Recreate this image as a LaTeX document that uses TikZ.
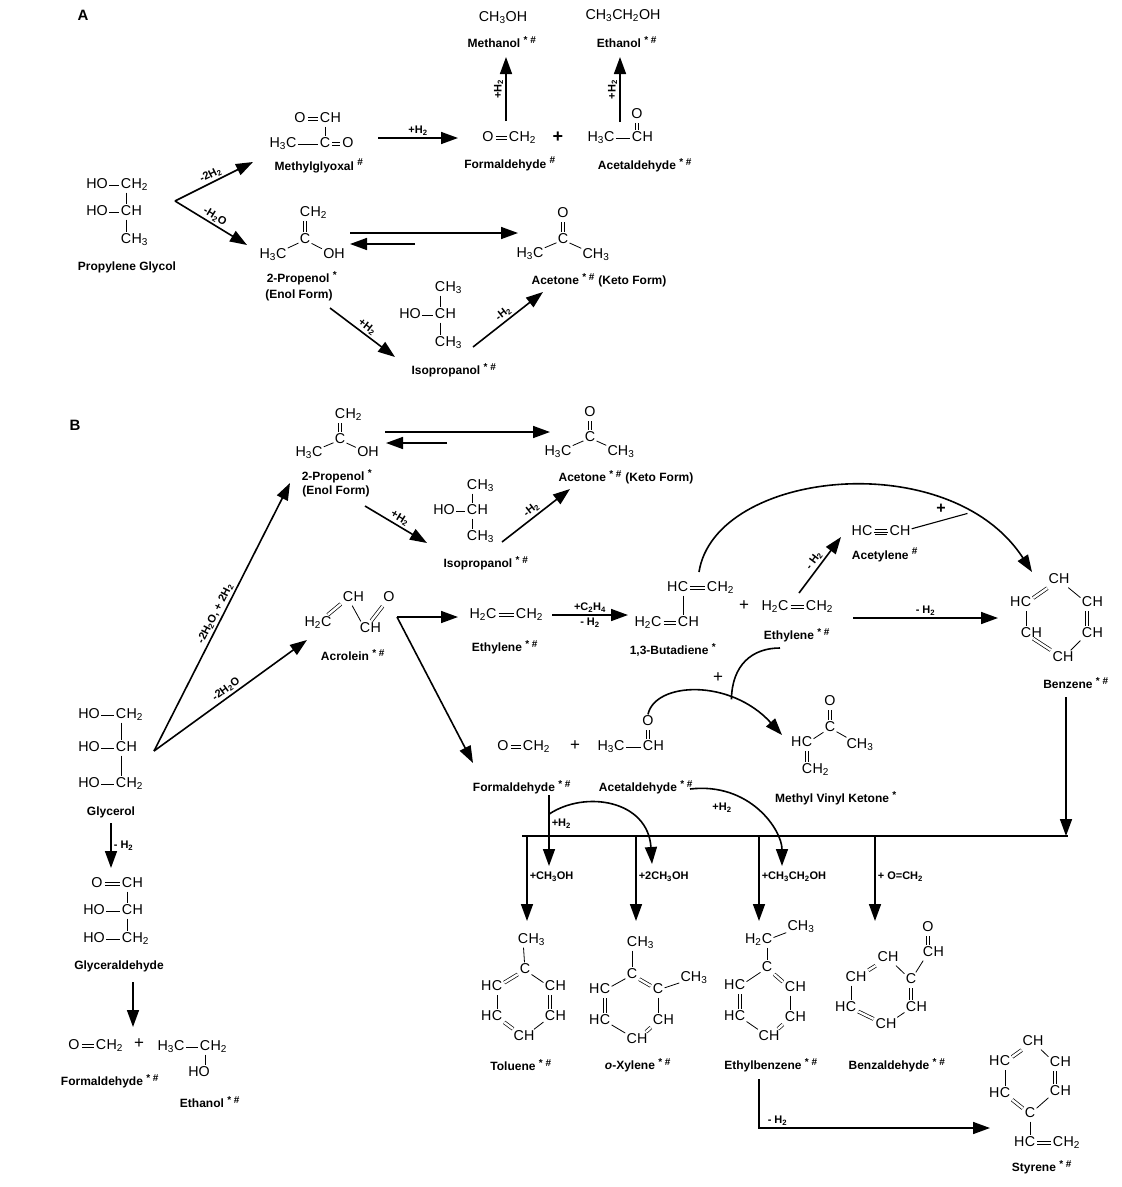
\documentclass[tikz,border=0pt]{standalone}
\usepackage{fontspec}
\setmainfont{Liberation Sans}
\usetikzlibrary{arrows.meta}

\newcommand{\cmpmark}[1]{~\textsuperscript{\fontsize{10}{10}\selectfont #1}}

\tikzset{
  atm/.style={inner sep=1.2pt, text height=10pt, text depth=2.5pt, font=\fontsize{14.3}{16}\selectfont},
  hr/.style={label={[atm, inner sep=0pt, xshift=-1.2pt]right:#1}},
  hl/.style={label={[atm, inner sep=0pt, xshift=1.2pt]left:#1}},
  sb/.style={line width=0.8pt},
  db/.style={double, double distance=2.4pt, line width=0.7pt, shorten <=0.8pt, shorten >=0.8pt},
  molname/.style={inner sep=0pt, font=\bfseries\fontsize{12}{14}\selectfont},
  cnd/.style={inner sep=2pt, font=\bfseries\fontsize{11}{13}\selectfont},
  pl/.style={inner sep=0pt, font=\fontsize{17}{19}\selectfont},
  rx/.style={line width=1.6pt, -{Triangle[length=17pt, width=12pt]}},
}

\begin{document}
\begin{tikzpicture}[x=1pt, y=-1pt]
\useasboundingbox (0,0) rectangle (1122,1187);

% ================= A =================
\node[font=\bfseries\fontsize{15}{17}\selectfont] (lblA) at (83,15) {A};

% propylene glycol
\node[atm] (pg1o) at (97,185) {HO};
\node[atm, hr={H\textsubscript{2}}] (pg1c) at (126,185) {C};
\node[atm] (pg2o) at (97,212) {HO};
\node[atm, hr=H] (pg2c) at (126,212) {C};
\node[atm, hr={H\textsubscript{3}}] (pg3c) at (126,240) {C};
\draw[sb] (pg1o) -- (pg1c);
\draw[sb] (pg2o) -- (pg2c);
\draw[sb] (pg1c) -- (pg2c) -- (pg3c);
\node[molname] (pgl) at (127,267) {Propylene Glycol};

\coordinate (pgv) at (175,201);
\coordinate (mgin) at (253,162);
\coordinate (pain) at (247,245);
\draw[rx] (pgv) -- node[cnd, sloped, above] {-2H\textsubscript{2}} (mgin);
\draw[rx] (pgv) -- node[cnd, sloped, above] {-H\textsubscript{2}O} (pain);

% methylglyoxal
\node[atm] (mgo1) at (300,119) {O};
\node[atm, hr=H] (mgc1) at (325,119) {C};
\node[atm] (mgme) at (283,144) {H\textsubscript{3}C};
\node[atm] (mgc2) at (325,144) {C};
\node[atm] (mgo2) at (348,144) {O};
\draw[db] (mgo1) -- (mgc1);
\draw[sb] (mgc1) -- (mgc2);
\draw[sb] (mgme) -- (mgc2);
\draw[db] (mgc2) -- (mgo2);
\node[molname] (mgl) at (319,166) {Methylglyoxal\cmpmark{\#}};

\coordinate (mgout) at (378,138);
\coordinate (fain) at (458,138);
\draw[rx] (mgout) -- node[cnd, above] {+H\textsubscript{2}} (fain);

% formaldehyde + acetaldehyde
\node[atm] (fao) at (488,138) {O};
\node[atm, hr={H\textsubscript{2}}] (fac) at (514,138) {C};
\draw[db] (fao) -- (fac);
\node[molname] (fal) at (510,164) {Formaldehyde\cmpmark{\#}};
\node[pl, font=\bfseries\fontsize{18}{20}\selectfont] (plA) at (558,137) {+};
\node[atm] (aame) at (601,138) {H\textsubscript{3}C};
\node[atm, hr=H] (aac) at (637,138) {C};
\node[atm] (aao) at (637,115) {O};
\draw[sb] (aame) -- (aac);
\draw[db] (aac) -- (aao);
\node[molname] (aal) at (645,165) {Acetaldehyde\cmpmark{* \#}};

% methanol, ethanol
\coordinate (meout) at (506,121);
\coordinate (mein) at (506,57);
\draw[rx] (meout) -- node[cnd, sloped, above] {+H\textsubscript{2}} (mein);
\node[atm] (meoh) at (503,18) {CH\textsubscript{3}OH};
\node[molname] (mel) at (502,42) {Methanol\cmpmark{* \#}};
\coordinate (etout) at (620,122);
\coordinate (etin) at (620,57);
\draw[rx] (etout) -- node[cnd, sloped, above] {+H\textsubscript{2}} (etin);
\node[atm] (etoh) at (623,16) {CH\textsubscript{3}CH\textsubscript{2}OH};
\node[molname] (etl) at (627,42) {Ethanol\cmpmark{* \#}};

% 2-propenol (enol)
\node[atm, hr={H\textsubscript{2}}] (pach2) at (305,213) {C};
\node[atm] (pac) at (305,240) {C};
\node[atm] (pame) at (273,255) {H\textsubscript{3}C};
\node[atm] (paoh) at (334,255) {OH};
\draw[db] (pach2) -- (pac);
\draw[sb] (pame) -- (pac) -- (paoh);
\node[molname] (pal1) at (302,278) {2-Propenol\cmpmark{*}};
\node[molname] (pal2) at (299,295) {(Enol Form)};

\coordinate (eqa1) at (350,233);
\coordinate (eqa2) at (518,233);
\coordinate (eqa3) at (415,244);
\coordinate (eqa4) at (350,244);
\draw[rx] (eqa1) -- (eqa2);
\draw[rx] (eqa3) -- (eqa4);

% acetone (keto)
\node[atm] (acao) at (563,214) {O};
\node[atm] (acac) at (563,240) {C};
\node[atm] (acam1) at (530,254) {H\textsubscript{3}C};
\node[atm] (acam2) at (596,255) {CH\textsubscript{3}};
\draw[db] (acao) -- (acac);
\draw[sb] (acam1) -- (acac) -- (acam2);
\node[molname] (acal) at (599,280) {Acetone\cmpmark{* \#} (Keto Form)};

% isopropanol
\node[atm, hr={H\textsubscript{3}}] (ipa1) at (440,288) {C};
\node[atm] (ipaho) at (410,315) {HO};
\node[atm, hr=H] (ipa2) at (440,315) {C};
\node[atm, hr={H\textsubscript{3}}] (ipa3) at (440,343) {C};
\draw[sb] (ipa1) -- (ipa2) -- (ipa3);
\draw[sb] (ipaho) -- (ipa2);
\node[molname] (ipal) at (454,370) {Isopropanol\cmpmark{* \#}};

\coordinate (paout) at (330,308);
\coordinate (ipin) at (395,357);
\coordinate (ipout) at (473,347);
\coordinate (acin) at (543,292);
\draw[rx] (paout) -- node[cnd, sloped, above] {+H\textsubscript{2}} (ipin);
\draw[rx] (ipout) -- node[cnd, sloped, above] {-H\textsubscript{2}} (acin);

% ================= B =================
\node[font=\bfseries\fontsize{15}{17}\selectfont] (lblB) at (75,425) {B};

% 2-propenol
\node[atm, hr={H\textsubscript{2}}] (pbch2) at (340,415) {C};
\node[atm] (pbc) at (340,440) {C};
\node[atm] (pbme) at (309,453) {H\textsubscript{3}C};
\node[atm] (pboh) at (368,453) {OH};
\draw[db] (pbch2) -- (pbc);
\draw[sb] (pbme) -- (pbc) -- (pboh);
\node[molname] (pbl1) at (337,476) {2-Propenol\cmpmark{*}};
\node[molname] (pbl2) at (336,491) {(Enol Form)};

\coordinate (eqb1) at (385,432);
\coordinate (eqb2) at (550,432);
\coordinate (eqb3) at (447,443);
\coordinate (eqb4) at (386,443);
\draw[rx] (eqb1) -- (eqb2);
\draw[rx] (eqb3) -- (eqb4);

% acetone
\node[atm] (acbo) at (590,413) {O};
\node[atm] (acbc) at (590,438) {C};
\node[atm] (acbm1) at (558,452) {H\textsubscript{3}C};
\node[atm] (acbm2) at (621,452) {CH\textsubscript{3}};
\draw[db] (acbo) -- (acbc);
\draw[sb] (acbm1) -- (acbc) -- (acbm2);
\node[molname] (acbl) at (626,477) {Acetone\cmpmark{* \#} (Keto Form)};

% isopropanol
\node[atm, hr={H\textsubscript{3}}] (ipb1) at (472,486) {C};
\node[atm] (ipbho) at (444,511) {HO};
\node[atm, hr=H] (ipb2) at (472,511) {C};
\node[atm, hr={H\textsubscript{3}}] (ipb3) at (472,537) {C};
\draw[sb] (ipb1) -- (ipb2) -- (ipb3);
\draw[sb] (ipbho) -- (ipb2);
\node[molname] (ipbl) at (486,563) {Isopropanol\cmpmark{* \#}};

\coordinate (pbout) at (365,506);
\coordinate (ipbin) at (427,543);
\coordinate (ipbout) at (502,542);
\coordinate (acbin) at (570,489);
\draw[rx] (pbout) -- node[cnd, sloped, above] {+H\textsubscript{2}} (ipbin);
\draw[rx] (ipbout) -- node[cnd, sloped, above] {-H\textsubscript{2}} (acbin);

% glycerol
\node[atm] (gl1o) at (89,715) {HO};
\node[atm, hr={H\textsubscript{2}}] (gl1c) at (121,715) {C};
\node[atm] (gl2o) at (89,748) {HO};
\node[atm, hr=H] (gl2c) at (121,748) {C};
\node[atm] (gl3o) at (89,784) {HO};
\node[atm, hr={H\textsubscript{2}}] (gl3c) at (121,784) {C};
\draw[sb] (gl1o) -- (gl1c);
\draw[sb] (gl2o) -- (gl2c);
\draw[sb] (gl3o) -- (gl3c);
\draw[sb] (gl1c) -- (gl2c) -- (gl3c);
\node[molname] (gll) at (111,812) {Glycerol};

\coordinate (glv) at (154,751);
\coordinate (pbin) at (290,483);
\coordinate (arin) at (307,640);
\draw[rx] (glv) -- node[cnd, sloped, above] {-2H\textsubscript{2}O, + 2H\textsubscript{2}} (pbin);
\draw[rx] (glv) -- node[cnd, sloped, above] {-2H\textsubscript{2}O} (arin);

% glyceraldehyde
\coordinate (glout) at (111,823);
\coordinate (gain) at (111,868);
\draw[rx] (glout) -- node[cnd, right] {- H\textsubscript{2}} (gain);
\node[atm] (ga1o) at (97,884) {O};
\node[atm, hr=H] (ga1c) at (127,884) {C};
\node[atm] (ga2o) at (94,911) {HO};
\node[atm, hr=H] (ga2c) at (127,911) {C};
\node[atm] (ga3o) at (94,939) {HO};
\node[atm, hr={H\textsubscript{2}}] (ga3c) at (127,939) {C};
\draw[db] (ga1o) -- (ga1c);
\draw[sb] (ga2o) -- (ga2c);
\draw[sb] (ga3o) -- (ga3c);
\draw[sb] (ga1c) -- (ga2c) -- (ga3c);
\node[molname] (gal) at (119,966) {Glyceraldehyde};

\coordinate (gaout) at (133,982);
\coordinate (bfin) at (133,1027);
\draw[rx] (gaout) -- (bfin);

% formaldehyde + ethanol
\node[atm] (bfo) at (74,1046) {O};
\node[atm, hr={H\textsubscript{2}}] (bfc) at (101,1046) {C};
\draw[db] (bfo) -- (bfc);
\node[pl] (plbf) at (139,1044) {+};
\node[atm] (beme) at (171,1047) {H\textsubscript{3}C};
\node[atm, hr={H\textsubscript{2}}] (bec) at (205,1047) {C};
\node[atm] (beoh) at (199,1073) {HO};
\draw[sb] (beme) -- (bec);
\draw[sb] (bec) -- (bec |- beoh.north);
\node[molname] (bfl) at (110,1081) {Formaldehyde\cmpmark{* \#}};
\node[molname] (bel) at (210,1102) {Ethanol\cmpmark{* \#}};

% acrolein
\node[atm, hr=H] (arc1) at (348,598) {C};
\node[atm] (arch2) at (318,623) {H\textsubscript{2}C};
\node[atm, hr=H] (arc2) at (365,629) {C};
\node[atm] (aro) at (389,598) {O};
\draw[db] (arch2) -- (arc1);
\draw[sb] (arc1) -- (arc2);
\draw[db] (arc2) -- (aro);
\node[molname] (arl) at (353,655) {Acrolein\cmpmark{* \#}};

\coordinate (arv) at (397,617);
\coordinate (et1in) at (458,617);
\coordinate (fbin) at (473,763);
\draw[rx] (arv) -- (et1in);
\draw[rx] (arv) -- (fbin);

% ethylene
\node[atm] (et1a) at (483,615) {H\textsubscript{2}C};
\node[atm, hr={H\textsubscript{2}}] (et1b) at (521,615) {C};
\draw[db] (et1a) -- (et1b);
\node[molname] (et1l) at (505,647) {Ethylene\cmpmark{* \#}};

\coordinate (et1out) at (552,615);
\coordinate (bdin) at (628,615);
\draw[rx] (et1out) -- node[cnd, above] {+C\textsubscript{2}H\textsubscript{4}} node[cnd, below] {- H\textsubscript{2}} (bdin);

% 1,3-butadiene
\node[atm, hl=H] (bdc1) at (683,588) {C};
\node[atm, hr={H\textsubscript{2}}] (bdc2) at (712,588) {C};
\node[atm, hr=H] (bdc3) at (683,623) {C};
\node[atm] (bdc4) at (648,623) {H\textsubscript{2}C};
\draw[db] (bdc1) -- (bdc2);
\draw[sb] (bdc1) -- (bdc3);
\draw[db] (bdc4) -- (bdc3);
\node[molname] (bdl) at (673,650) {1,3-Butadiene\cmpmark{*}};

\node[pl] (plbd) at (744,606) {+};

% ethylene (second)
\node[atm] (et2a) at (775,607) {H\textsubscript{2}C};
\node[atm, hr={H\textsubscript{2}}] (et2b) at (811,607) {C};
\draw[db] (et2a) -- (et2b);
\node[molname] (et2l) at (797,635) {Ethylene\cmpmark{* \#}};

% acetylene
\coordinate (et2out) at (799,593);
\coordinate (ayin) at (841,537);
\draw[rx] (et2out) -- node[cnd, sloped, above] {- H\textsubscript{2}} (ayin);
\node[atm] (aya) at (862,532) {HC};
\node[atm] (ayb) at (900,532) {CH};
\draw[db, double distance=3.8pt] (aya) -- (ayb);
\draw[sb] (aya) -- (ayb);
\node[molname] (ayl) at (885,555) {Acetylene\cmpmark{\#}};

% butadiene + acetylene to benzene
\coordinate (bdout) at (699,572);
\coordinate (bzin1) at (1032,572);
\draw[rx] (bdout) .. controls (715,470) and (950,445) .. (bzin1) coordinate[pos=0.8] (ayjn);
\draw[sb, line width=1.1pt] (ayb) -- (ayjn);
\node[pl, font=\bfseries\fontsize{16}{18}\selectfont] (play) at (941,509) {+};

\coordinate (et2r) at (853,618);
\coordinate (bzin2) at (998,618);
\draw[rx] (et2r) -- node[cnd, above] {- H\textsubscript{2}} (bzin2);

% benzene
\node[atm] (bz1) at (1059,580) {CH};
\node[atm, hl=H] (bz2) at (1026,603) {C};
\node[atm, hr=H] (bz3) at (1087,603) {C};
\node[atm, hr=H] (bz4) at (1087,634) {C};
\node[atm] (bz5) at (1063,658) {CH};
\node[atm, hr=H] (bz6) at (1026,634) {C};
\draw[db] (bz2) -- (bz1);
\draw[sb] (bz1) -- (bz3);
\draw[db] (bz3) -- (bz4);
\draw[sb] (bz4) -- (bz5);
\draw[db] (bz5) -- (bz6);
\draw[sb] (bz6) -- (bz2);
\node[molname] (bzl) at (1076,683) {Benzene\cmpmark{* \#}};

% formaldehyde + acetaldehyde
\node[atm] (fbo) at (503,747) {O};
\node[atm, hr={H\textsubscript{2}}] (fbc) at (528,747) {C};
\draw[db] (fbo) -- (fbc);
\node[pl] (plfb) at (575,746) {+};
\node[atm] (abme) at (611,747) {H\textsubscript{3}C};
\node[atm, hr=H] (abc) at (648,747) {C};
\node[atm] (abo) at (648,722) {O};
\draw[sb] (abme) -- (abc);
\draw[db] (abc) -- (abo);
\node[molname] (fbl) at (522,787) {Formaldehyde\cmpmark{* \#}};
\node[molname] (abl) at (646,787) {Acetaldehyde\cmpmark{* \#}};

% ethylene + acetaldehyde to methyl vinyl ketone
\coordinate (mvin) at (782,735);
\draw[rx] (abo.north) .. controls (655,682) and (730,678) .. (mvin) coordinate[pos=0.7] (mvjn);
\coordinate (et2low) at (780,648);
\draw[line width=1.6pt] (et2low) .. controls (752,648) and (732,665) .. (mvjn);
\node[pl] (plmv) at (718,678) {+};

\node[atm] (mvo) at (830,702) {O};
\node[atm] (mvc) at (830,728) {C};
\node[atm, hl=H] (mvhc) at (807,743) {C};
\node[atm] (mvme) at (860,745) {CH\textsubscript{3}};
\node[atm, hr={H\textsubscript{2}}] (mvch2) at (807,770) {C};
\draw[db] (mvo) -- (mvc);
\draw[sb] (mvhc) -- (mvc) -- (mvme);
\draw[db] (mvhc) -- (mvch2);
\node[molname] (mvl) at (836,798) {Methyl Vinyl Ketone\cmpmark{*}};

% benzene down to the collecting bar
\coordinate (bzout) at (1066,697);
\coordinate (barr) at (1066,836);
\draw[rx] (bzout) -- (barr);
\coordinate (barl) at (522,836);
\coordinate (bare) at (1068,836);
\draw[line width=2.2pt] (barl) -- (bare);

\coordinate (tob) at (527,836);
\coordinate (toin) at (527,921);
\coordinate (xyb) at (636,836);
\coordinate (xyin) at (636,921);
\coordinate (ebb) at (759,836);
\coordinate (ebin) at (759,921);
\coordinate (bab) at (875,836);
\coordinate (bain) at (875,921);
\draw[rx] (tob) -- node[cnd, right, pos=0.48] {+CH\textsubscript{3}OH} (toin);
\draw[rx] (xyb) -- node[cnd, right, pos=0.48] {+2CH\textsubscript{3}OH} (xyin);
\draw[rx] (ebb) -- node[cnd, right, pos=0.48] {+CH\textsubscript{3}CH\textsubscript{2}OH} (ebin);
\draw[rx] (bab) -- node[cnd, right, pos=0.48] {+ O=CH\textsubscript{2}} (bain);

% hydrogenation of formaldehyde and acetaldehyde
\coordinate (fbd1) at (549,795);
\coordinate (fbd2) at (549,866);
\draw[rx] (fbd1) -- coordinate[pos=0.27] (fbjn) node[cnd, right, pos=0.4] {+H\textsubscript{2}} (fbd2);
\coordinate (xyh) at (652,864);
\draw[rx] (fbjn) .. controls (585,790) and (648,800) .. (xyh);
\coordinate (abd1) at (690,789);
\coordinate (ebh) at (782,866);
\draw[rx] (abd1) .. controls (750,782) and (782,830) .. (ebh);
\node[cnd] (abh2) at (722,808) {+H\textsubscript{2}};

% toluene
\node[atm, hr={H\textsubscript{3}}] (tome) at (523,940) {C};
\node[atm] (to1) at (525,970) {C};
\node[atm, hl=H] (to2) at (497,987) {C};
\node[atm, hr=H] (to3) at (550,987) {C};
\node[atm, hl=H] (to4) at (497,1017) {C};
\node[atm, hr=H] (to5) at (550,1017) {C};
\node[atm] (to6) at (524,1037) {CH};
\draw[sb] (tome) -- (to1);
\draw[db] (to1) -- (to2);
\draw[sb] (to1) -- (to3);
\draw[db] (to3) -- (to5);
\draw[sb] (to5) -- (to6);
\draw[db] (to6) -- (to4);
\draw[sb] (to4) -- (to2);
\node[molname] (tol) at (521,1065) {Toluene\cmpmark{* \#}};

% o-xylene
\node[atm, hr={H\textsubscript{3}}] (xyme1) at (632,943) {C};
\node[atm] (xy1) at (632,975) {C};
\node[atm] (xy2) at (658,990) {C};
\node[atm] (xyme2) at (694,978) {CH\textsubscript{3}};
\node[atm, hl=H] (xy3) at (605,990) {C};
\node[atm, hl=H] (xy4) at (605,1021) {C};
\node[atm, hr=H] (xy5) at (658,1021) {C};
\node[atm] (xy6) at (637,1040) {CH};
\draw[sb] (xyme1) -- (xy1);
\draw[db] (xy1) -- (xy2);
\draw[sb] (xy2) -- (xyme2);
\draw[sb] (xy1) -- (xy3);
\draw[db] (xy3) -- (xy4);
\draw[sb] (xy2) -- (xy5);
\draw[db] (xy5) -- (xy6);
\draw[sb] (xy6) -- (xy4);
\node[molname] (xyl) at (638,1065) {\textit{o}-Xylene\cmpmark{* \#}};

% ethylbenzene
\node[atm] (ebme) at (801,927) {CH\textsubscript{3}};
\node[atm, hl={H\textsubscript{2}}] (ebch2) at (767,940) {C};
\node[atm] (eb1) at (767,968) {C};
\node[atm, hl=H] (eb2) at (740,986) {C};
\node[atm, hr=H] (eb3) at (790,988) {C};
\node[atm, hl=H] (eb4) at (740,1017) {C};
\node[atm, hr=H] (eb5) at (790,1018) {C};
\node[atm] (eb6) at (769,1037) {CH};
\draw[sb] (ebch2) -- (ebme);
\draw[sb] (ebch2) -- (eb1);
\draw[db] (eb1) -- (eb3);
\draw[sb] (eb1) -- (eb2);
\draw[db] (eb2) -- (eb4);
\draw[sb] (eb3) -- (eb5);
\draw[db] (eb5) -- (eb6);
\draw[sb] (eb6) -- (eb4);
\node[molname] (ebl) at (771,1065) {Ethylbenzene\cmpmark{* \#}};

% benzaldehyde
\node[atm] (bao) at (928,928) {O};
\node[atm, hr=H] (bacho) at (928,953) {C};
\node[atm] (ba1) at (911,980) {C};
\node[atm] (ba2) at (888,958) {CH};
\node[atm] (ba3) at (856,978) {CH};
\node[atm, hl=H] (ba4) at (851,1008) {C};
\node[atm] (ba5) at (886,1025) {CH};
\node[atm, hr=H] (ba6) at (911,1008) {C};
\draw[db] (bao) -- (bacho);
\draw[sb] (bacho) -- (ba1);
\draw[sb] (ba1) -- (ba2);
\draw[db] (ba2) -- (ba3);
\draw[sb] (ba3.south -| ba4) -- (ba4);
\draw[db] (ba4) -- (ba5);
\draw[sb] (ba5) -- (ba6);
\draw[db] (ba6) -- (ba1);
\node[molname] (bal) at (897,1065) {Benzaldehyde\cmpmark{* \#}};

% ethylbenzene to styrene
\coordinate (ebout) at (759,1079);
\coordinate (ebk) at (759,1128);
\coordinate (stin) at (990,1128);
\draw[rx] (ebout) -- (ebk) -- node[cnd, above, pos=0.08] {- H\textsubscript{2}} (stin);

% styrene
\node[atm] (st1) at (1033,1042) {CH};
\node[atm, hl=H] (st2) at (1005,1062) {C};
\node[atm, hr=H] (st3) at (1055,1063) {C};
\node[atm, hl=H] (st4) at (1005,1094) {C};
\node[atm, hr=H] (st5) at (1055,1092) {C};
\node[atm] (st6) at (1030,1114) {C};
\node[atm, hl=H] (sthc) at (1030,1143) {C};
\node[atm, hr={H\textsubscript{2}}] (stch2) at (1058,1143) {C};
\draw[db] (st2) -- (st1);
\draw[sb] (st1) -- (st3);
\draw[db] (st3) -- (st5);
\draw[sb] (st5) -- (st6);
\draw[db] (st6) -- (st4);
\draw[sb] (st4) -- (st2);
\draw[sb] (st6) -- (sthc);
\draw[db] (sthc) -- (stch2);
\node[molname] (stl) at (1042,1167) {Styrene\cmpmark{* \#}};

\end{tikzpicture}
\end{document}
